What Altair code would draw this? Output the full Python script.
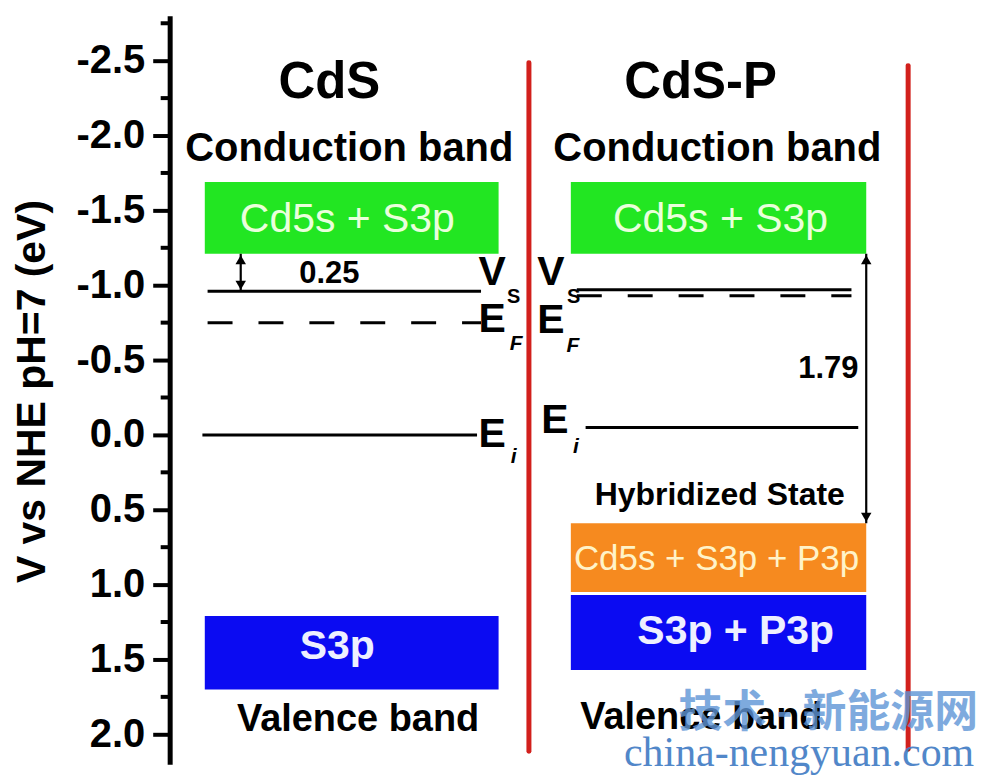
import altair as alt
import pandas as pd

FONT = "Liberation Sans"

# ---------------- data ----------------
# y axis (V vs NHE)
major_ticks = [-2.5, -2.0, -1.5, -1.0, -0.5, 0.0, 0.5, 1.0, 1.5, 2.0]
minor_ticks = [-2.75, -2.25, -1.75, -1.25, -0.75, -0.25, 0.25, 0.75, 1.25, 1.75]

# energy bands (x in abstract panel units 0..100)
band_x0 = [4.4, 50.25, 50.25, 4.4, 50.25]
band_x1 = [41.2, 87.25, 87.25, 41.2, 87.25]
band_top = [-1.69, -1.69, 0.59, 1.21, 1.07]
band_bottom = [-1.21, -1.21, 1.05, 1.70, 1.57]
band_kind = ["CB", "CB", "HS", "VB", "VB"]
band_label = ["Cd5s + S3p", "Cd5s + S3p", "Cd5s + S3p + P3p", "S3p", "S3p + P3p"]
band_label_x = [22.25, 69.0, 68.5, 21.0, 70.9]
band_label_y = [-1.353, -1.353, 0.90, 1.50, 1.40]

# energy levels
level_x0 = [4.75, 4.1, 51.0, 52.1]
level_x1 = [39.0, 38.5, 85.4, 86.25]
level_y = [-0.96, 0.0, -0.97, -0.05]
fermi_x0 = [4.75, 51.0]
fermi_x1 = [39.0, 85.4]
fermi_y = [-0.75, -0.93]

# separators
sep_x = [45.0, 92.5]
sep_top = [-2.487, -2.467]
sep_bottom = [2.113, 2.10]

# arrows (band gaps)
arrow_x = [8.9, 87.25]
arrow_from = [-1.21, -1.21]
arrow_to = [-0.96, 0.59]
arrow_value = ["0.25", "1.79"]
arrow_label_x = [20.0, 82.5]
arrow_label_y = [-1.013, -0.38]

# texts
panel_names = ["CdS", "CdS-P"]
panel_x = [20.0, 66.5]
panel_y = [-2.25, -2.25]
cb_text = ["Conduction band", "Conduction band"]
cb_x = [22.5, 68.6]
cb_y = [-1.833, -1.833]
vb_text = ["Valence band", "Valence band"]
vb_x = [23.6, 66.6]
vb_y = [1.98, 1.967]
hs_text = ["Hybridized State"]
hs_x = [68.9]
hs_y = [0.467]

sym_text = ["V", "E", "E", "V", "E", "E"]
sym_x = [40.4, 40.4, 40.4, 47.75, 47.75, 48.25]
sym_y = [-1.0, -0.687, 0.08, -1.0, -0.68, -0.013]
sub_up_text = ["S", "S"]
sub_up_x = [43.1, 50.6]
sub_up_y = [-0.88, -0.88]
sub_it_text = ["F", "i", "F", "i"]
sub_it_x = [43.4, 43.1, 50.5, 50.9]
sub_it_y = [-0.567, 0.187, -0.553, 0.12]

wm_cn = ["技术 - 新能源网"]
wm_en = ["china-nengyuan.com"]
wm_cn_xy = ([63.75], [1.953])
wm_en_xy = ([56.9], [2.215])

# ---------------- scales ----------------
xs = alt.Scale(domain=[0, 100], nice=False, zero=False)
ys = alt.Scale(domain=[-2.8, 2.2], reverse=True, nice=False, zero=False)

y_axis = alt.Axis(
    values=major_ticks,
    labelExpr="(datum.value < 0 ? '-' : '') + format(abs(datum.value), '.1f')",
    labelOverlap=False,
    labelFont=FONT, labelFontSize=40, labelFontWeight="bold", labelColor="black",
    labelPadding=8,
    tickSize=17, tickWidth=4, tickColor="black",
    domainWidth=5, domainColor="black",
    grid=False,
    title="V vs NHE pH=7 (eV)", titleFont=FONT, titleFontSize=41, titleFontWeight="bold",
    titleColor="black", titleAngle=270, titleX=-137, titleY=376,
    titleAlign="center", titleBaseline="middle",
)

def X(f="x"):
    return alt.X(f"{f}:Q", scale=xs, axis=None)

def Y(f="y"):
    return alt.Y(f"{f}:Q", scale=ys, axis=y_axis)

bands = pd.DataFrame({"x0": band_x0, "x1": band_x1, "y0": band_top, "y1": band_bottom,
                      "kind": band_kind})
band_layer = alt.Chart(bands).mark_rect().encode(
    x=X("x0"), x2="x1:Q", y=Y("y0"), y2="y1:Q",
    color=alt.Color("kind:N", scale=alt.Scale(domain=["CB", "HS", "VB"],
                                               range=["#22e622", "#f68a1f", "#0b0bf2"]),
                    legend=None),
)

# minor ticks on the y axis
minor = pd.DataFrame({"y": minor_ticks})
minor_layer = alt.Chart(minor).mark_rule(color="black", strokeWidth=4).encode(
    x=alt.value(-9), x2=alt.value(0), y=Y("y"))

levels = pd.DataFrame({"x0": level_x0, "x1": level_x1, "y": level_y})
level_layer = alt.Chart(levels).mark_rule(color="black", strokeWidth=3).encode(
    x=X("x0"), x2="x1:Q", y=Y("y"))

fermi = pd.DataFrame({"x0": fermi_x0, "x1": fermi_x1, "y": fermi_y})
fermi_layer = alt.Chart(fermi).mark_rule(color="black", strokeWidth=3, strokeDash=[25, 26]).encode(
    x=X("x0"), x2="x1:Q", y=Y("y"))

seps = pd.DataFrame({"x": sep_x, "y0": sep_top, "y1": sep_bottom})
sep_layer = alt.Chart(seps).mark_rule(color="#d2201c", strokeWidth=5, strokeCap="round").encode(
    x=X("x"), y=Y("y0"), y2="y1:Q")

arrows = pd.DataFrame({"x": arrow_x, "y0": arrow_from, "y1": arrow_to})
arrow_shaft = alt.Chart(arrows).mark_rule(color="black", strokeWidth=2.2).encode(
    x=X("x"), y=Y("y0"), y2="y1:Q")
arrow_up = alt.Chart(arrows).mark_point(shape="triangle-up", filled=True, color="black",
                                         size=110, opacity=1, yOffset=6).encode(x=X("x"), y=Y("y0"))
arrow_down = alt.Chart(arrows).mark_point(shape="triangle-down", filled=True, color="black",
                                           size=110, opacity=1, yOffset=-6).encode(x=X("x"), y=Y("y1"))


def text_layer(t, x, y, size, weight="bold", color="black", style="normal",
               align="center", font=FONT, opacity=1.0):
    df = pd.DataFrame({"t": t, "x": x, "y": y})
    return alt.Chart(df).mark_text(
        fontSize=size, fontWeight=weight, color=color, fontStyle=style, align=align,
        baseline="alphabetic", font=font, opacity=opacity,
    ).encode(x=X("x"), y=Y("y"), text="t:N")


band_text_cb = text_layer([band_label[0], band_label[1]], band_label_x[:2], band_label_y[:2],
                          41, weight="normal", color="#eaffdc")
band_text_hs = text_layer([band_label[2]], [band_label_x[2]], [band_label_y[2]],
                          35, weight="normal", color="#fff3c8")
band_text_vb = text_layer(band_label[3:], band_label_x[3:], band_label_y[3:],
                          41, weight="bold", color="#eef0ff")

layers = [
    band_layer, minor_layer, level_layer, fermi_layer, sep_layer,
    arrow_shaft, arrow_up, arrow_down,
    band_text_cb, band_text_hs, band_text_vb,
    text_layer(panel_names, panel_x, panel_y, 51),
    text_layer(cb_text, cb_x, cb_y, 40),
    text_layer(vb_text, vb_x, vb_y, 38),
    text_layer(hs_text, hs_x, hs_y, 32),
    text_layer(arrow_value, arrow_label_x, arrow_label_y, 31),
    text_layer(sym_text, sym_x, sym_y, 41),
    text_layer(sub_up_text, sub_up_x, sub_up_y, 20),
    text_layer(sub_it_text, sub_it_x, sub_it_y, 21, style="italic"),
    text_layer(wm_cn, wm_cn_xy[0], wm_cn_xy[1], 44, color="#5f95d6", align="left",
               font="Noto Sans CJK SC", opacity=0.8),
    text_layer(wm_en, wm_en_xy[0], wm_en_xy[1], 42, weight="normal", color="#3f7bc4",
               align="left", font="Liberation Serif", opacity=0.9),
]

chart = alt.layer(*layers).properties(
    width=800, height=750,
    autosize=alt.AutoSizeParams(type="none"),
    padding={"left": 162, "top": 7, "right": 10, "bottom": 10},
    background="white",
).configure_view(stroke=None)

chart.save("out.html", embed_options={"renderer": "svg", "actions": False})
